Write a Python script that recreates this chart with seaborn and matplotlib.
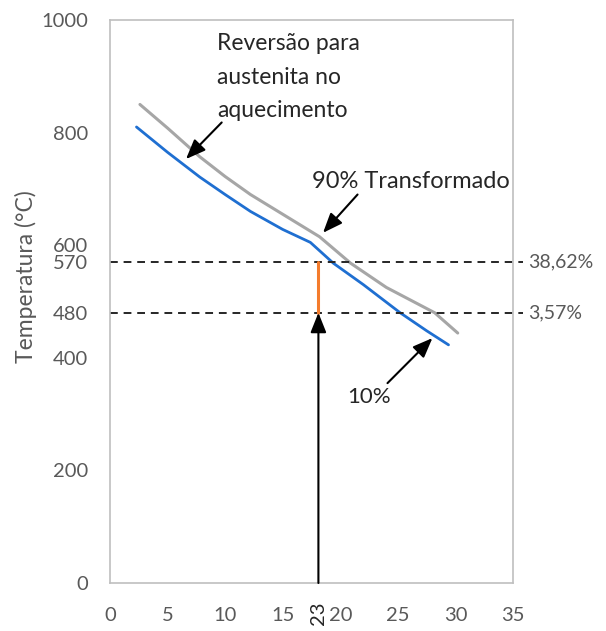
import matplotlib
matplotlib.use("Agg")
import matplotlib.pyplot as plt
import seaborn as sns
import pandas as pd

sns.set_theme(style="white")
plt.rcParams['font.family'] = ['Lato', 'DejaVu Sans']

# 10% curve (blue)
x_10 = [2.3, 5, 7.8, 10, 12.2, 15, 17.4, 19.4, 22, 25.2, 27.5, 29.4]
y_10 = [810, 765, 721, 690, 660, 628, 605, 568, 530, 480, 448, 423]
# 90% transformed curve (gray)
x_90 = [2.6, 5, 7.8, 10, 12.2, 15, 18.2, 20.9, 24, 28.2, 30.2]
y_90 = [850, 808, 757, 722, 690, 655, 615, 568, 525, 480, 444]

y_ticks = [0, 200, 400, 480, 570, 600, 800, 1000]
x_ticks = [0, 5, 10, 15, 20, 25, 30, 35]
h_levels = [570, 480]
h_labels = ["38,62%", "3,57%"]
x_mark = 18.1
x_mark_label = "23"

df10 = pd.DataFrame({"x": x_10, "y": y_10})
df90 = pd.DataFrame({"x": x_90, "y": y_90})

fig = plt.figure(figsize=(6.06, 6.31), dpi=100)
ax = fig.add_axes([110/606, 48/631, 403/606, 563/631])

sns.lineplot(data=df90, x="x", y="y", ax=ax, color="#a6a6a6", linewidth=2.2, sort=False)
sns.lineplot(data=df10, x="x", y="y", ax=ax, color="#1f6fd1", linewidth=2.0, sort=False)

ax.set_xlim(0, 35)
ax.set_ylim(0, 1000)
ax.set_xticks(x_ticks)
ax.set_yticks(y_ticks)
tc = "#595959"
ax.tick_params(axis='both', labelsize=14.5, colors=tc, length=5, width=1, direction='out')
ax.tick_params(axis='x', pad=12)
ax.tick_params(axis='y', pad=11)
for sp in ax.spines.values():
    sp.set_color("#bfbfbf")
    sp.set_linewidth(1.2)
ax.set_xlabel("")
ax.set_ylabel("Temperatura (°C)", fontsize=16.5, color=tc)
ax.yaxis.set_label_coords(-0.18, 0.545)

# dashed horizontal lines extending beyond the axes
for lv, lab in zip(h_levels, h_labels):
    ax.plot([0, 35.9], [lv, lv], ls=(0, (4, 3)), color="#262626", lw=1.4, clip_on=False)
    ax.text(36.3, lv, lab, fontsize=14, color=tc, va="center", ha="left", clip_on=False)

# orange segment
ax.plot([x_mark, x_mark], h_levels, color="#f47c2c", lw=2.2)

arrow_kw = dict(arrowstyle="-|>,head_length=1.0,head_width=0.4", color="black", lw=1.5,
                shrinkA=0, shrinkB=0)

# vertical arrow
ax.annotate("", xy=(x_mark, 480), xytext=(x_mark, 0), arrowprops=arrow_kw)
ax.text(x_mark, -33, x_mark_label, rotation=90, fontsize=14.5, color="#262626",
        ha="center", va="top", clip_on=False)

# annotations
ax.text(9.3, 977, "Reversão para\naustenita no\naquecimento", fontsize=16.5, color="#262626",
        va="top", ha="left", linespacing=1.75)
ax.annotate("", xy=(6.6, 753), xytext=(9.7, 818), arrowprops=arrow_kw)

ax.text(17.5, 714, "90% Transformado", fontsize=17, color="#262626", va="center", ha="left")
ax.annotate("", xy=(18.5, 622), xytext=(21.5, 690), arrowprops=arrow_kw)

ax.text(20.6, 330, "10%", fontsize=16, color="#262626", va="center", ha="left")
ax.annotate("", xy=(28.0, 435), xytext=(24.1, 355), arrowprops=arrow_kw)

fig.savefig("out.png", dpi=100)
